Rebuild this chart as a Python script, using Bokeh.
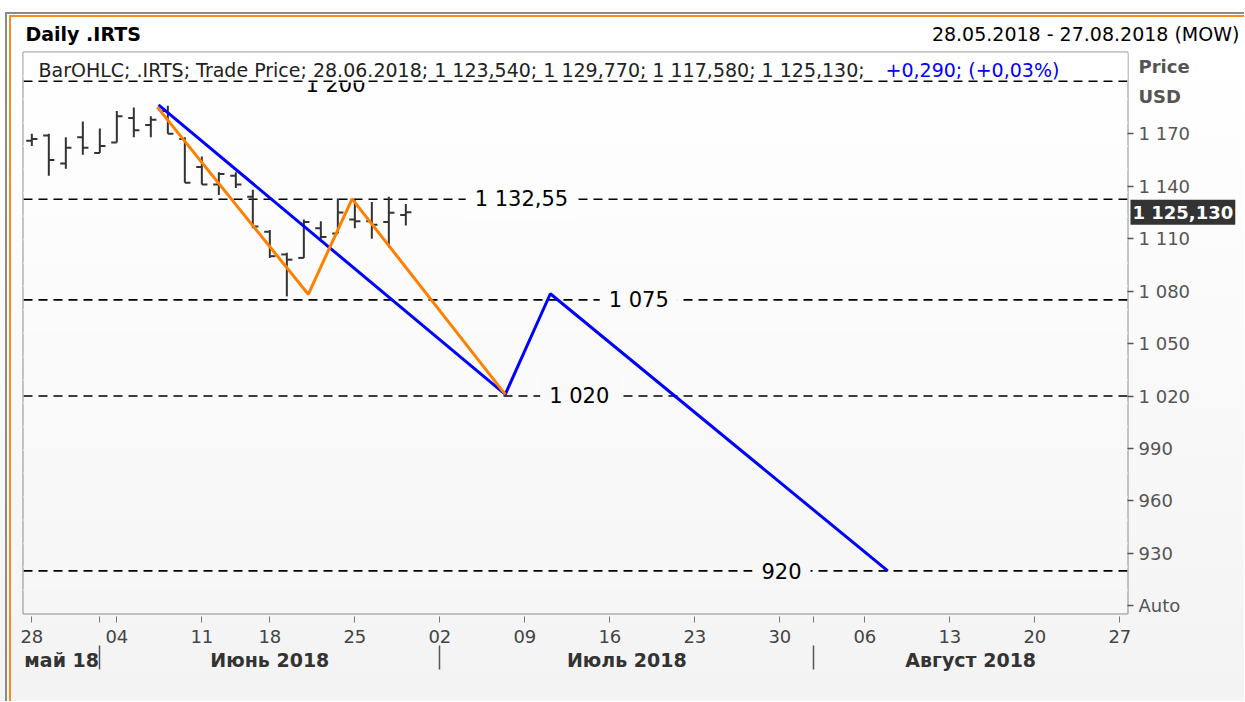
import pandas as pd
from bokeh.plotting import figure
from bokeh.models import Range1d, LinearAxis, FixedTicker, Span, Label, BoxAnnotation, Grid
from bokeh.embed import file_html
from bokeh.resources import INLINE

# ---------------- data ----------------
first_day, last_day = "2018-05-28", "2018-08-27"
exchange_holidays = ["2018-06-12"]

bar_dates = ["2018-05-28", "2018-05-29", "2018-05-30", "2018-05-31", "2018-06-01",
             "2018-06-04", "2018-06-05", "2018-06-06", "2018-06-07", "2018-06-08",
             "2018-06-11", "2018-06-13", "2018-06-14", "2018-06-15",
             "2018-06-18", "2018-06-19", "2018-06-20", "2018-06-21", "2018-06-22",
             "2018-06-25", "2018-06-26", "2018-06-27", "2018-06-28"]
opens  = [1166, 1169, 1153, 1168, 1159, 1165, 1179, 1175, 1183, 1167, 1151, 1141, 1146, 1134,
          1114, 1101, 1099, 1116, 1113, 1121, 1120, 1119.5, 1123.54]
highs  = [1170, 1170, 1168, 1177, 1173, 1183, 1185, 1180, 1186, 1168, 1157, 1148, 1148, 1138,
          1115, 1102, 1121, 1120, 1133, 1132, 1131, 1134, 1129.77]
lows   = [1163, 1146, 1150, 1158, 1159, 1165, 1168, 1168, 1170, 1142, 1141, 1135, 1139, 1116,
          1099, 1077, 1099, 1110, 1113, 1116, 1110, 1105, 1117.58]
closes = [1167, 1155, 1162, 1162, 1163, 1180, 1172, 1178, 1170, 1142, 1141, 1147, 1141, 1117,
          1100, 1098, 1119.5, 1111, 1125, 1120, 1118, 1124.84, 1125.13]

# drawn trend lines: x in trading days from 28.05.2018
blue_x = [7.45, 27.85, 30.5, 50.35]
blue_y = [1186.5, 1021, 1078.5, 920]
orange_x = [7.38, 16.26, 18.84, 27.85]
orange_y = [1185.2, 1078.2, 1132.8, 1021]

levels = [1200, 1132.55, 1075, 1020, 920]
level_texts = ["1 200", "1 132,55", "1 075", "1 020", "920"]

y_ticks = [900, 930, 960, 990, 1020, 1050, 1080, 1110, 1140, 1170]
month_names = ["май 18", "Июнь 2018", "Июль 2018", "Август 2018"]

# ---------------- helpers ----------------
days = pd.bdate_range(first_day, last_day)
days = days[~days.isin(pd.to_datetime(exchange_holidays))]
pos = {d: i for i, d in enumerate(days)}
bx = [pos[pd.Timestamp(d)] for d in bar_dates]

def fmt_int(v):
    return f"{int(v):,}".replace(",", " ")

def fmt3(v):
    s = f"{v:,.3f}"
    return s.replace(",", " ").replace(".", ",")

W, H = 1244, 701
FL, FR, FT, FB = 23, 1128, 52, 613   # frame edges in figure px
X0, X1 = -0.49, 64.45
Y0, Y1 = 895.65, 1216.47

def sx(rx):  # figure x -> frame screen units
    return rx - FL

def sy(ry):  # figure y -> frame screen units (from frame bottom, upward)
    return FB - ry

def dx(px):  # figure x pixel -> data x (same linear scale as the frame)
    return X0 + (px - FL) / (FR - FL) * (X1 - X0)

def dy(py):  # figure y pixel -> data y
    return Y1 - (py - FT) / (FB - FT) * (Y1 - Y0)

FONT = "DejaVu Sans"
S = dict(x_units="screen", y_units="screen")

p = figure(width=W, height=H, output_backend="svg", toolbar_location=None,
           x_range=Range1d(X0, X1), y_range=Range1d(Y0, Y1),
           x_axis_location=None, y_axis_location=None,
           min_border_left=FL, min_border_right=W - FR,
           min_border_top=FT, min_border_bottom=H - FB)
p.center = [c for c in p.center if not isinstance(c, Grid)]
p.background_fill_color = "#fbfbfb"
p.border_fill_color = "#f8f8f8"
p.border_fill_alpha = 0
p.outline_line_color = "#8c8c8c"
p.outline_line_width = 2
p.styles = {
    "background": ("linear-gradient(#8a8a8a,#8a8a8a) 5px 12px / 100% 2px no-repeat, "
                   "linear-gradient(#8a8a8a,#8a8a8a) 5px 12px / 2px 100% no-repeat, "
                   "linear-gradient(#ff8a1c,#ff8a1c) 9px 15px / 100% 2px no-repeat, "
                   "linear-gradient(#ff8a1c,#ff8a1c) 9px 15px / 2px 100% no-repeat, "
                   "linear-gradient(to bottom, #ffffff 0%, #ffffff 8%, #f3f3f3 100%)"),
}

# background gradient inside the frame (white top -> light grey bottom)
nb = 24
for i in range(nb):
    ry0 = FT + (FB - FT) * i / nb
    ry1 = FT + (FB - FT) * (i + 1) / nb
    g = int(round(255 - 9 * (i + 0.5) / nb))
    p.add_layout(BoxAnnotation(left=sx(0), right=sx(1260), top=sy(ry0) + 1, bottom=sy(ry1) - 1,
                               left_units="screen", right_units="screen",
                               top_units="screen", bottom_units="screen",
                               fill_color=f"#{g:02x}{g:02x}{g:02x}", fill_alpha=1,
                               line_color=None, level="underlay"))

# horizontal levels (1200 drawn later above the legend strip)
for v in levels[1:]:
    p.add_layout(Span(location=v, dimension="width", line_color="black", line_width=1.6,
                      line_dash="9 6", level="underlay"))

# OHLC bars
tick = 0.33
p.segment(bx, lows, bx, highs, line_color="#333333", line_width=2)
p.segment([x - tick for x in bx], opens, bx, opens, line_color="#333333", line_width=2)
p.segment(bx, closes, [x + tick for x in bx], closes, line_color="#333333", line_width=2)

# trend lines
p.line(blue_x, blue_y, line_color="#0000ff", line_width=3)
p.line(orange_x, orange_y, line_color="#ff8000", line_width=3)

# level labels
label_x = [17.86, 28.8, 35.7, 32.2, 44.1]
def bg_at(v):
    ry = 133.3 + (1170 - v) * 1.7496
    g = int(round(255 - 9 * (ry - FT) / (FB - FT)))
    return f"#{g:02x}{g:02x}{g:02x}"
for v, t, lx in zip(levels, level_texts, label_x):
    yy = v - 2 if v == 1200 else v
    p.add_layout(Label(x=lx, y=yy, text=t, text_align="center", text_baseline="middle",
                       text_font=FONT, text_font_size="21px", text_color="black",
                       background_fill_color=None if v == 1200 else bg_at(v),
                       padding=9, level="annotation"))

# legend strip
p.add_layout(BoxAnnotation(left=sx(FL), right=sx(FR), top=sy(FT), bottom=sy(82),
                           left_units="screen", right_units="screen",
                           top_units="screen", bottom_units="screen",
                           fill_color="white", fill_alpha=1, line_color=None, level="overlay"))
p.add_layout(Span(location=levels[0], dimension="width", line_color="black", line_width=1.6,
                  line_dash="9 6", level="overlay"))
o, h, l, c = opens[-1], highs[-1], lows[-1], closes[-1]
chg = c - closes[-2]
pct = chg / closes[-2] * 100
leg_black = (f"BarOHLC; .IRTS; Trade Price; {pd.Timestamp(bar_dates[-1]).strftime('%d.%m.%Y')}; "
             f"{fmt3(o)}; {fmt3(h)}; {fmt3(l)}; {fmt3(c)}; ")
leg_blue = f"{'+' if chg >= 0 else ''}{fmt3(chg)}; ({'+' if pct >= 0 else ''}{pct:.2f}%)".replace(".", ",")
p.add_layout(Label(x=sx(38), y=sy(69), text=leg_black, text_font=FONT, text_font_size="19px",
                   text_color="#222222", text_baseline="middle", level="overlay", **S))
p.add_layout(Label(x=sx(885), y=sy(69), text=leg_blue, text_font=FONT, text_font_size="19px",
                   text_color="#0000ff", text_baseline="middle", level="overlay", **S))

# axes
yax = LinearAxis(ticker=FixedTicker(ticks=y_ticks),
                 major_label_overrides={t: ("Auto" if t == 900 else fmt_int(t)) for t in y_ticks})
yax.axis_line_color = None
yax.major_tick_out = 6
yax.major_tick_in = 0
yax.major_tick_line_color = "#555555"
yax.major_tick_line_width = 1.5
yax.major_label_standoff = 5
yax.major_label_text_font = FONT
yax.major_label_text_font_size = "18px"
yax.major_label_text_color = "#555555"
p.add_layout(yax, "right")

mondays = [i for i, d in enumerate(days) if d.weekday() == 0]
month_starts = [i for i in range(1, len(days)) if days[i].month != days[i - 1].month]
day_ticks = sorted(set(mondays + month_starts))
xax = LinearAxis(ticker=FixedTicker(ticks=day_ticks),
                 major_label_overrides={i: (days[i].strftime("%d") if i in mondays else "") for i in day_ticks})
xax.axis_line_color = None
xax.major_tick_in = -3
xax.major_tick_out = 9
xax.major_tick_line_color = "#777777"
xax.major_tick_line_width = 1
xax.major_label_standoff = 7
xax.major_label_text_font = FONT
xax.major_label_text_font_size = "18px"
xax.major_label_text_color = "#444444"
p.add_layout(xax, "below")

bounds = [X0] + month_starts + [X1]
month_centers = [(bounds[i] + bounds[i + 1]) / 2 for i in range(len(month_names))]
max_ = LinearAxis(ticker=FixedTicker(ticks=month_centers, minor_ticks=month_starts),
                  major_label_overrides={m: n for m, n in zip(month_centers, month_names)})
max_.axis_line_color = None
max_.major_tick_out = 0
max_.major_tick_in = 0
max_.minor_tick_in = 0
max_.minor_tick_out = 24
max_.minor_tick_line_color = "#555555"
max_.minor_tick_line_width = 1.5
max_.major_label_standoff = -21
max_.major_label_text_font = FONT
max_.major_label_text_font_size = "19px"
max_.major_label_text_font_style = "bold"
max_.major_label_text_color = "#333333"
p.add_layout(max_, "below")

# texts outside the frame: labels placed in side panels (not clipped), positioned in data units
p.add_layout(Label(x=dx(25), y=dy(33), text="Daily .IRTS", text_font=FONT, text_font_size="19px",
                   text_font_style="bold", text_color="black", text_baseline="middle"), "above")
p.add_layout(Label(x=dx(1240), y=dy(33), text="28.05.2018 - 27.08.2018 (MOW)", text_font=FONT,
                   text_font_size="19px", text_color="black", text_baseline="middle",
                   text_align="right"), "above")
p.add_layout(Label(x=dx(1139), y=dy(81), text="Price\nUSD", text_font=FONT, text_font_size="18px",
                   text_font_style="bold", text_color="#555555", text_baseline="middle",
                   text_line_height=1.4), "right")
p.add_layout(Label(x=dx(1131), y=closes[-1], text=fmt3(closes[-1]),
                   text_font=FONT, text_font_size="18px", text_font_style="bold",
                   text_color="white", text_baseline="middle", background_fill_color="#333333",
                   padding=2), "below")

open("out.html", "w").write(file_html(p, INLINE))
